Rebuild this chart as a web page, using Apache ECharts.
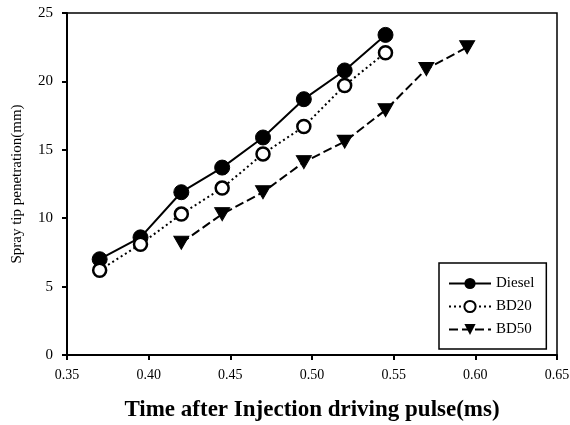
<!DOCTYPE html>
<html>
<head>
<meta charset="utf-8">
<script src="https://cdn.jsdelivr.net/npm/echarts@6/dist/echarts.min.js"></script>
<style>html,body{margin:0;padding:0;background:#fff}#c{width:570px;height:425px}</style>
</head>
<body>
<div id="c"></div>
<script>
const xTicks = [0.35, 0.40, 0.45, 0.50, 0.55, 0.60, 0.65];
const dieselX = [0.37, 0.395, 0.42, 0.445, 0.47, 0.495, 0.52, 0.545];
const dieselY = [7.0, 8.6, 11.9, 13.7, 15.9, 18.7, 20.8, 23.4];
const bd20X = [0.37, 0.395, 0.42, 0.445, 0.47, 0.495, 0.52, 0.545];
const bd20Y = [6.2, 8.1, 10.3, 12.2, 14.7, 16.7, 19.7, 22.1];
const bd50X = [0.42, 0.445, 0.47, 0.495, 0.52, 0.545, 0.57, 0.595];
const bd50Y = [8.2, 10.3, 11.9, 14.1, 15.6, 17.9, 20.9, 22.5];
const names = ['Diesel', 'BD20', 'BD50'];

const pair = (xs, ys) => xs.map((x, i) => [x, ys[i]]);
const font = 'Liberation Serif, Times New Roman, serif';
const chart = echarts.init(document.getElementById('c'), null, {renderer: 'canvas'});
chart.setOption({
  animation: false,
  backgroundColor: '#fff',
  grid: {left: 67, right: 13, top: 13, bottom: 70, show: true, borderColor: '#000', borderWidth: 1.5,
         outerBoundsMode: 'none', containLabel: false},
  xAxis: {
    type: 'value', min: 0.35, max: 0.65, interval: 0.05,
    name: 'Time after Injection driving pulse(ms)', nameLocation: 'middle', nameGap: 44,
    nameTextStyle: {fontFamily: font, fontSize: 23, fontWeight: 'bold', color: '#000'},
    axisLine: {show: true, lineStyle: {color: '#000', width: 2}},
    axisTick: {show: true, length: 5, lineStyle: {color: '#000', width: 2}},
    axisLabel: {fontFamily: font, fontSize: 14, color: '#000', margin: 13, formatter: v => v.toFixed(2)},
    splitLine: {show: false}
  },
  yAxis: {
    type: 'value', min: 0, max: 25, interval: 5,
    name: 'Spray tip penetration(mm)', nameLocation: 'middle', nameGap: 42,
    nameTextStyle: {fontFamily: font, fontSize: 15, color: '#000'},
    axisLine: {show: true, lineStyle: {color: '#000', width: 2}},
    axisTick: {show: true, length: 5, lineStyle: {color: '#000', width: 2}},
    axisLabel: {fontFamily: font, fontSize: 15, color: '#000', margin: 14},
    splitLine: {show: false}
  },
  legend: {
    left: 439, top: 263, orient: 'vertical',
    backgroundColor: '#fff', borderColor: '#000', borderWidth: 1.5,
    padding: [13, 12, 12, 9], itemGap: 8, itemWidth: 42, itemHeight: 14,
    textStyle: {fontFamily: font, fontSize: 15, lineHeight: 14, color: '#000'},
    data: names
  },
  series: [
    {
      name: names[0], type: 'line', data: pair(dieselX, dieselY),
      symbol: 'circle', symbolSize: 15,
      itemStyle: {color: '#000', borderColor: '#000'},
      lineStyle: {color: '#000', width: 2, type: 'solid'}
    },
    {
      name: names[1], type: 'line', data: pair(bd20X, bd20Y),
      symbol: 'circle', symbolSize: 13,
      itemStyle: {color: '#fff', borderColor: '#000', borderWidth: 2.5},
      lineStyle: {color: '#000', width: 2, type: [2, 3]}
    },
    {
      name: names[2], type: 'line', data: pair(bd50X, bd50Y),
      symbol: 'triangle', symbolSize: [15, 13], symbolRotate: 180,
      itemStyle: {color: '#000', borderColor: '#000'},
      lineStyle: {color: '#000', width: 2, type: [9, 4]}
    }
  ]
});
</script>
</body>
</html>
